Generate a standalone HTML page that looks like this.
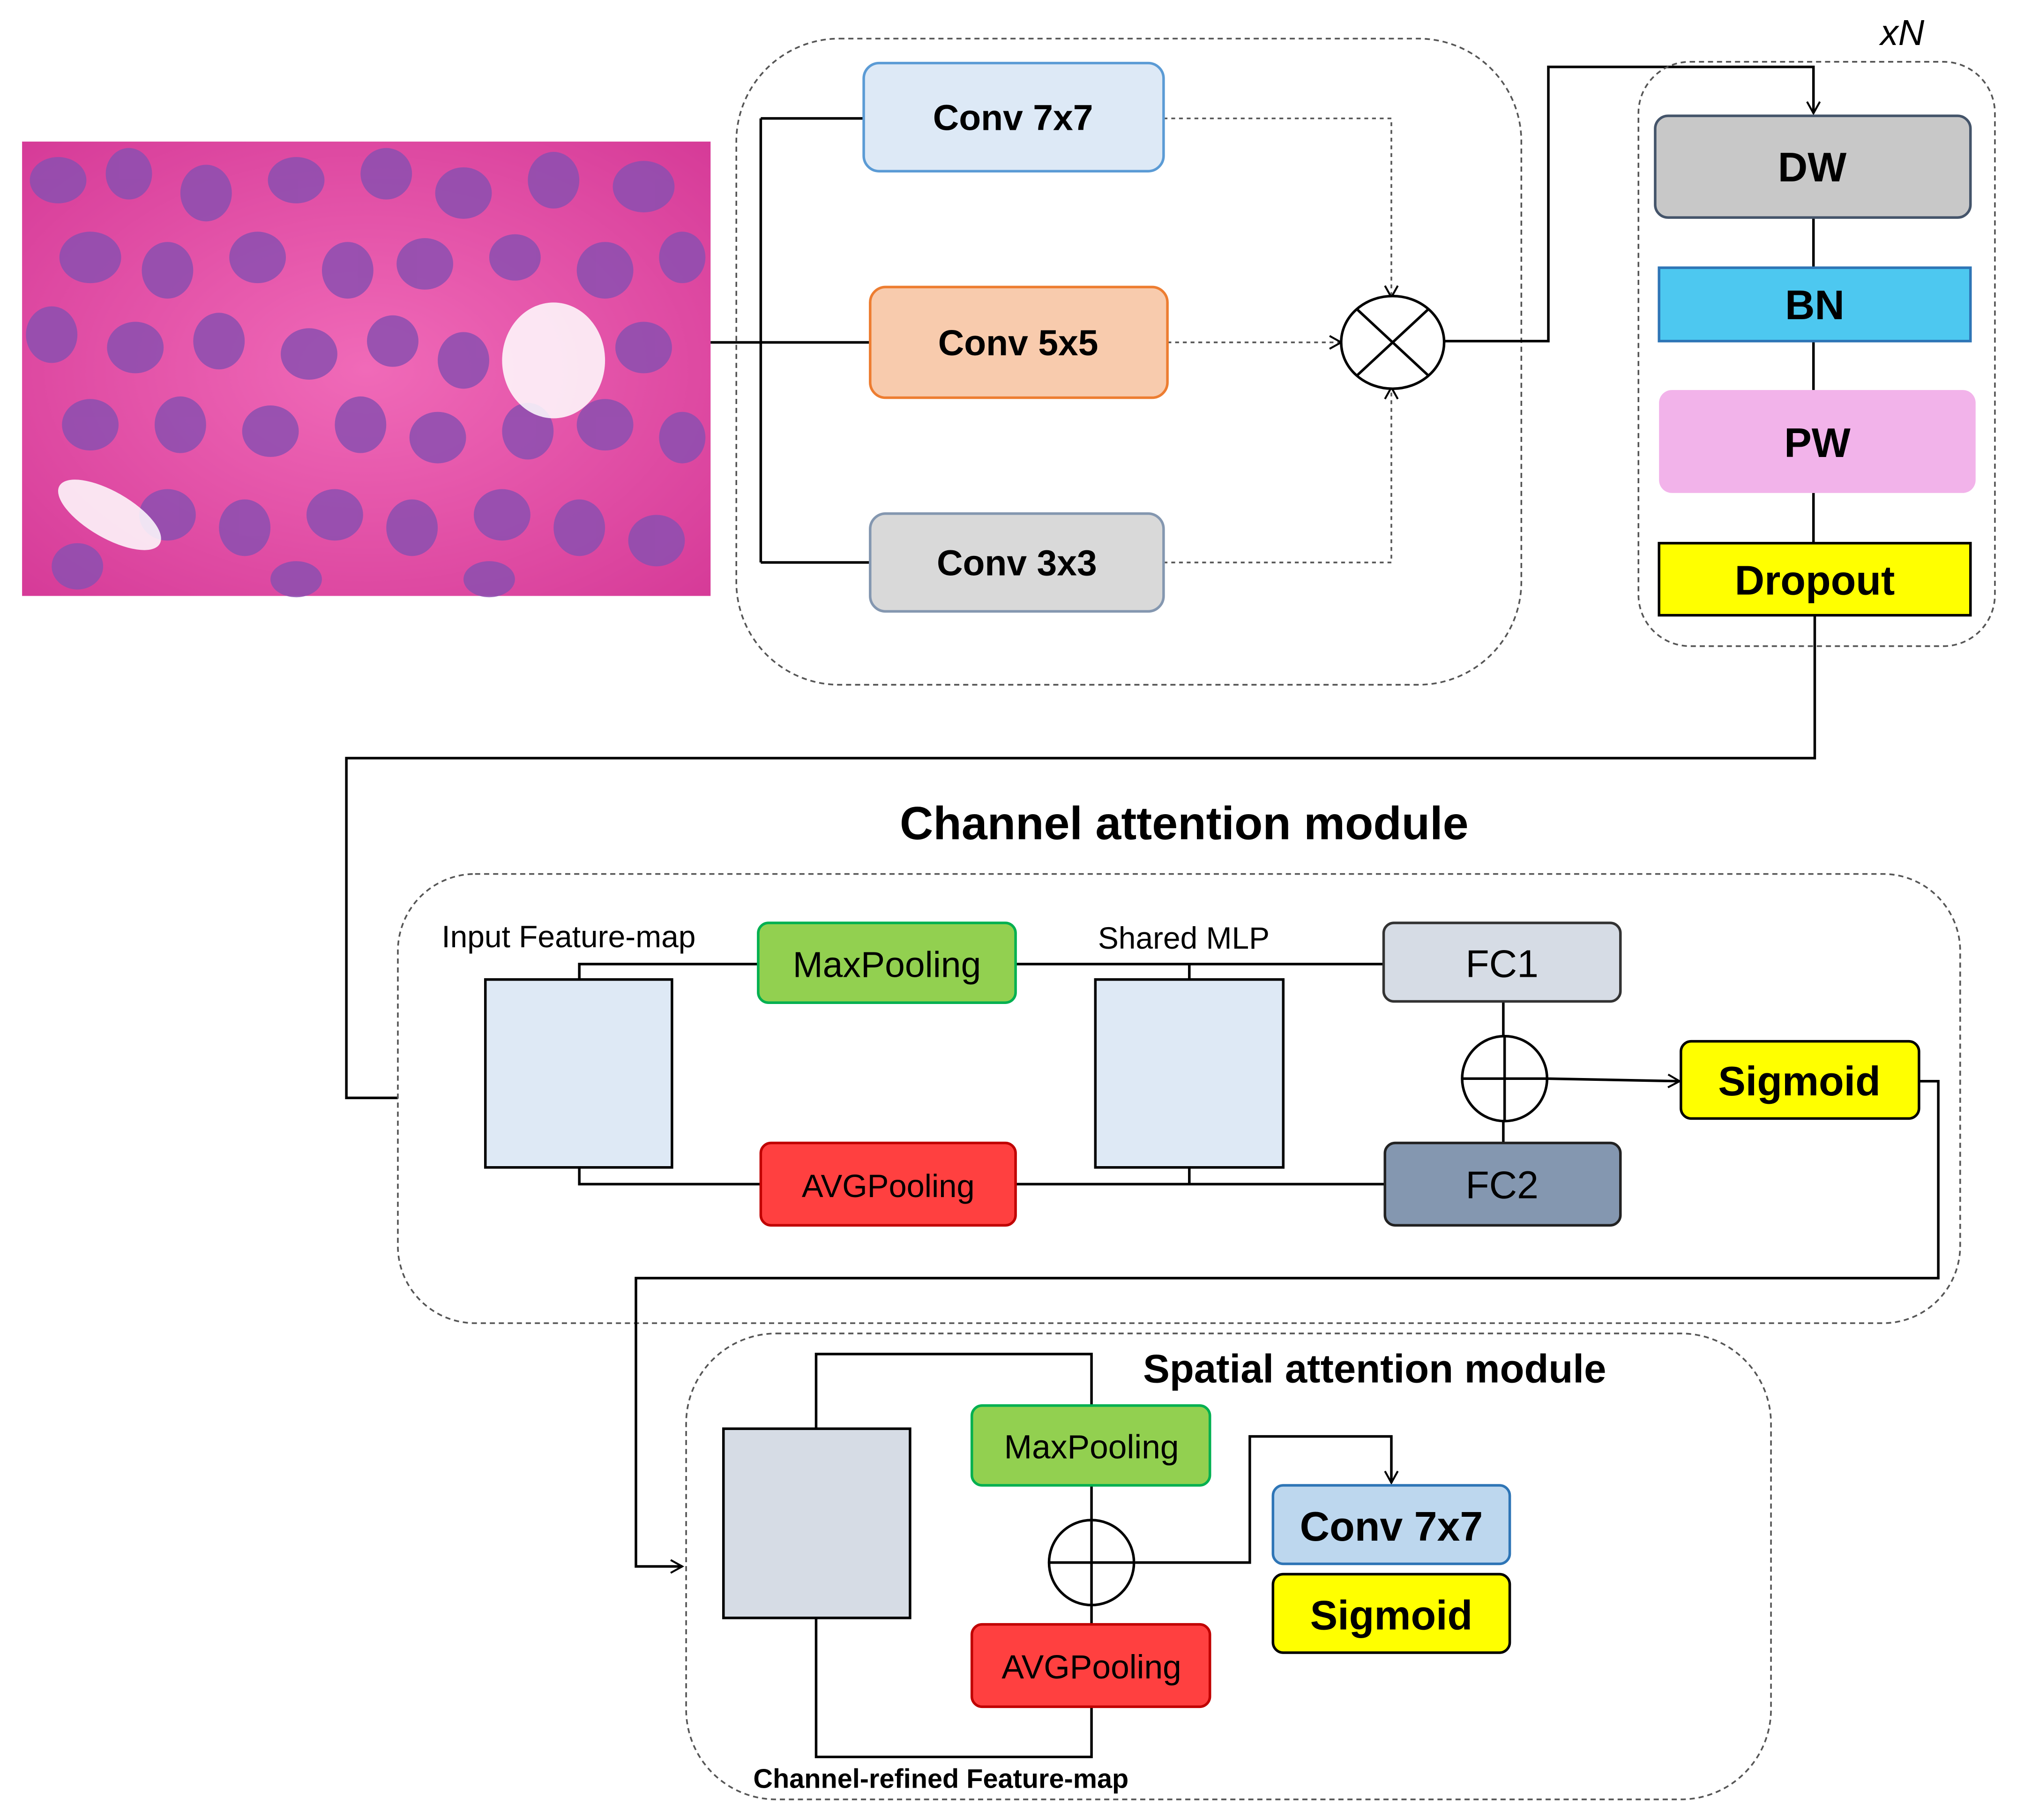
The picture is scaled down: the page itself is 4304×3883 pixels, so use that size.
<!DOCTYPE html>
<html><head><meta charset="utf-8"><style>html,body{margin:0;padding:0;background:#fff}svg{display:block}</style></head>
<body>
<svg width="4304" height="3883" viewBox="0 0 1567 1414" xmlns="http://www.w3.org/2000/svg" font-family="'Liberation Sans', sans-serif">
<defs>
<marker id="a" markerWidth="12" markerHeight="12" refX="10" refY="6" orient="auto" markerUnits="userSpaceOnUse"><path d="M1,1 L10,6 L1,11" fill="none" stroke="#000" stroke-width="1.5"/></marker>
<radialGradient id="pk" cx="50%" cy="50%" r="70%"><stop offset="0" stop-color="#f06ab8"/><stop offset="1" stop-color="#d63b98"/></radialGradient>
</defs>
<rect width="1567" height="1414" fill="#fff"/>
<g>
<rect x="17" y="110" width="535" height="353" fill="url(#pk)"/>
<g fill="#8c4fb0" opacity="0.85">
<ellipse cx="45" cy="140" rx="22" ry="18"/><ellipse cx="100" cy="135" rx="18" ry="20"/><ellipse cx="160" cy="150" rx="20" ry="22"/><ellipse cx="230" cy="140" rx="22" ry="18"/><ellipse cx="300" cy="135" rx="20" ry="20"/><ellipse cx="360" cy="150" rx="22" ry="20"/><ellipse cx="430" cy="140" rx="20" ry="22"/><ellipse cx="500" cy="145" rx="24" ry="20"/>
<ellipse cx="70" cy="200" rx="24" ry="20"/><ellipse cx="130" cy="210" rx="20" ry="22"/><ellipse cx="200" cy="200" rx="22" ry="20"/><ellipse cx="270" cy="210" rx="20" ry="22"/><ellipse cx="330" cy="205" rx="22" ry="20"/><ellipse cx="400" cy="200" rx="20" ry="18"/><ellipse cx="470" cy="210" rx="22" ry="22"/><ellipse cx="530" cy="200" rx="18" ry="20"/>
<ellipse cx="40" cy="260" rx="20" ry="22"/><ellipse cx="105" cy="270" rx="22" ry="20"/><ellipse cx="170" cy="265" rx="20" ry="22"/><ellipse cx="240" cy="275" rx="22" ry="20"/><ellipse cx="305" cy="265" rx="20" ry="20"/><ellipse cx="360" cy="280" rx="20" ry="22"/><ellipse cx="500" cy="270" rx="22" ry="20"/>
<ellipse cx="70" cy="330" rx="22" ry="20"/><ellipse cx="140" cy="330" rx="20" ry="22"/><ellipse cx="210" cy="335" rx="22" ry="20"/><ellipse cx="280" cy="330" rx="20" ry="22"/><ellipse cx="340" cy="340" rx="22" ry="20"/><ellipse cx="410" cy="335" rx="20" ry="22"/><ellipse cx="470" cy="330" rx="22" ry="20"/><ellipse cx="530" cy="340" rx="18" ry="20"/>
<ellipse cx="130" cy="400" rx="22" ry="20"/><ellipse cx="190" cy="410" rx="20" ry="22"/><ellipse cx="260" cy="400" rx="22" ry="20"/><ellipse cx="320" cy="410" rx="20" ry="22"/><ellipse cx="390" cy="400" rx="22" ry="20"/><ellipse cx="450" cy="410" rx="20" ry="22"/><ellipse cx="510" cy="420" rx="22" ry="20"/>
<ellipse cx="60" cy="440" rx="20" ry="18"/><ellipse cx="230" cy="450" rx="20" ry="14"/><ellipse cx="380" cy="450" rx="20" ry="14"/>
</g>
<ellipse cx="430" cy="280" rx="40" ry="45" fill="#fff" opacity="0.85"/>
<ellipse cx="85" cy="400" rx="45" ry="18" fill="#fff" opacity="0.85" transform="rotate(30 85 400)"/>
</g>
<rect x="572" y="30" width="610" height="502" rx="80" fill="none" stroke="#555" stroke-dasharray="4,3" stroke-width="1.3"/>
<g fill="none" stroke="#000" stroke-width="2">
<path d="M552,266 H676 M591,92 V437 M591,92 H671 M591,437 H676"/>
<path d="M1122,265 H1203 V52 H1409 V88" marker-end="url(#a)"/>
</g>
<g fill="none" stroke="#555" stroke-width="1.3" stroke-dasharray="3,3">
<path d="M904,92 H1081 V231" marker-end="url(#a)"/>
<path d="M907,266 H1042" marker-end="url(#a)"/>
<path d="M904,437 H1081 V301" marker-end="url(#a)"/>
</g>
<ellipse cx="1082" cy="266" rx="40" ry="36" fill="#fff" stroke="#000" stroke-width="2"/>
<path d="M1054,240 L1110,292 M1110,240 L1054,292" stroke="#000" stroke-width="2"/>
<g font-weight="bold" font-size="28" text-anchor="middle">
<rect x="671" y="49" width="233" height="84" rx="12" fill="#dde9f6" stroke="#5b9bd5" stroke-width="2"/><text x="787" y="101">Conv 7x7</text>
<rect x="676" y="223" width="231" height="86" rx="12" fill="#f8cbad" stroke="#ed7d31" stroke-width="2"/><text x="791" y="276">Conv 5x5</text>
<rect x="676" y="399" width="228" height="76" rx="12" fill="#d9d9d9" stroke="#8497b0" stroke-width="2"/><text x="790" y="447">Conv 3x3</text>
</g>
<text x="1478" y="35" font-size="28" font-style="italic" text-anchor="middle">xN</text>
<rect x="1273" y="48" width="277" height="454" rx="40" fill="none" stroke="#555" stroke-dasharray="4,3" stroke-width="1.3"/>
<path d="M1409,169 V208 M1409,265 V303 M1409,383 V422 M1410,478 V589 H269 V853 H309" fill="none" stroke="#000" stroke-width="2"/>
<g font-weight="bold" font-size="32" text-anchor="middle">
<rect x="1286" y="90" width="245" height="79" rx="10" fill="#c8c8c8" stroke="#44546a" stroke-width="2"/><text x="1408" y="141">DW</text>
<rect x="1289" y="208" width="242" height="57" fill="#4dc8f0" stroke="#2e75b6" stroke-width="2"/><text x="1410" y="248">BN</text>
<rect x="1289" y="303" width="246" height="80" rx="10" fill="#f2b3ea"/><text x="1412" y="355">PW</text>
<rect x="1289" y="422" width="242" height="56" fill="#ffff00" stroke="#000" stroke-width="2"/><text x="1410" y="462">Dropout</text>
</g>
<text x="920" y="652" font-size="36" font-weight="bold" text-anchor="middle">Channel attention module</text>
<rect x="309" y="679" width="1214" height="349" rx="60" fill="none" stroke="#555" stroke-dasharray="4,3" stroke-width="1.3"/>
<text x="343" y="736" font-size="24">Input Feature-map</text>
<text x="853" y="737" font-size="24">Shared MLP</text>
<g fill="none" stroke="#000" stroke-width="2">
<path d="M450,761 V749 H589 M450,907 V920 H591 M789,749 H1075 M789,920 H1076 M924,749 V761 M924,907 V920 M1168,778 V888"/>
<path d="M1202,838 L1305,840" marker-end="url(#a)"/>
<path d="M1491,840 H1506 V993 H494 V1217 H530" marker-end="url(#a)"/>
</g>
<rect x="377" y="761" width="145" height="146" fill="#dee9f5" stroke="#000" stroke-width="2"/>
<rect x="851" y="761" width="146" height="146" fill="#dee9f5" stroke="#000" stroke-width="2"/>
<g font-size="28" text-anchor="middle">
<rect x="589" y="717" width="200" height="62" rx="8" fill="#92d050" stroke="#00b050" stroke-width="2"/><text x="689" y="759">MaxPooling</text>
<rect x="591" y="888" width="198" height="64" rx="8" fill="#ff4040" stroke="#c00000" stroke-width="2"/><text x="690" y="930" font-size="25">AVGPooling</text>
<rect x="1075" y="717" width="184" height="61" rx="8" fill="#d6dce5" stroke="#333" stroke-width="2"/><text x="1167" y="759" font-size="30">FC1</text>
<rect x="1076" y="888" width="183" height="64" rx="8" fill="#8497b0" stroke="#222" stroke-width="2"/><text x="1167" y="931" font-size="30">FC2</text>
<rect x="1306" y="809" width="185" height="60" rx="8" fill="#ffff00" stroke="#000" stroke-width="2"/><text x="1398" y="851" font-weight="bold" font-size="32">Sigmoid</text>
</g>
<circle cx="1169" cy="838" r="33" fill="#fff" stroke="#000" stroke-width="2"/>
<path d="M1136,838 H1202 M1169,805 V871" stroke="#000" stroke-width="2"/>
<rect x="533" y="1036" width="843" height="362" rx="70" fill="none" stroke="#555" stroke-dasharray="4,3" stroke-width="1.3"/>
<text x="1068" y="1074" font-size="31" font-weight="bold" text-anchor="middle">Spatial attention module</text>
<g fill="none" stroke="#000" stroke-width="2">
<path d="M634,1110 V1052 H848 V1092 M848,1154 V1262 M634,1257 V1365 H848 V1326"/>
<path d="M882,1214 H971 V1116 H1081 V1152" marker-end="url(#a)"/>
</g>
<rect x="562" y="1110" width="145" height="147" fill="#d6dce5" stroke="#000" stroke-width="2"/>
<g font-size="26" text-anchor="middle">
<rect x="755" y="1092" width="185" height="62" rx="8" fill="#92d050" stroke="#00b050" stroke-width="2"/><text x="848" y="1133">MaxPooling</text>
<rect x="755" y="1262" width="185" height="64" rx="8" fill="#ff4040" stroke="#c00000" stroke-width="2"/><text x="848" y="1304">AVGPooling</text>
<rect x="989" y="1154" width="184" height="61" rx="8" fill="#bdd7ee" stroke="#2e75b6" stroke-width="2"/><text x="1081" y="1197" font-weight="bold" font-size="32">Conv 7x7</text>
<rect x="989" y="1223" width="184" height="61" rx="8" fill="#ffff00" stroke="#000" stroke-width="2"/><text x="1081" y="1266" font-weight="bold" font-size="32">Sigmoid</text>
</g>
<circle cx="848" cy="1214" r="33" fill="#fff" stroke="#000" stroke-width="2"/>
<path d="M815,1214 H881 M848,1181 V1247" stroke="#000" stroke-width="2"/>
<text x="731" y="1389" font-size="21" font-weight="bold" text-anchor="middle">Channel-refined Feature-map</text>
</svg>
</body></html>
